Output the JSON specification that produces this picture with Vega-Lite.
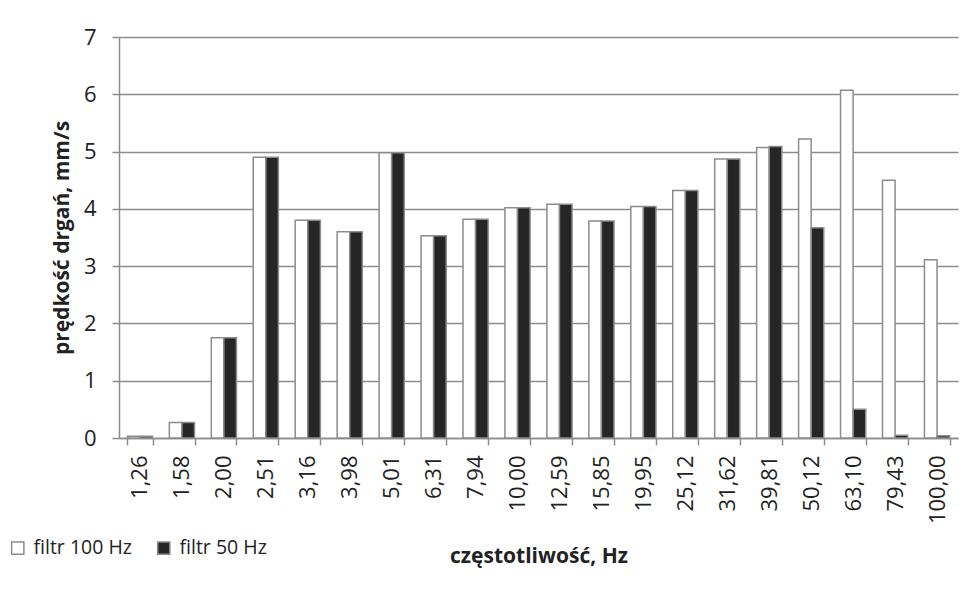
{
  "$schema": "https://vega.github.io/schema/vega-lite/v6.json",
  "width": 839,
  "height": 401,
  "autosize": {"type": "none"},
  "padding": {"left": 119, "top": 37, "right": 18, "bottom": 170},
  "background": "white",
  "data": {
    "values": [
      {"f": "1,26", "s": "filtr 100 Hz", "v": 0.03}, {"f": "1,26", "s": "filtr 50 Hz", "v": 0.03},
      {"f": "1,58", "s": "filtr 100 Hz", "v": 0.27}, {"f": "1,58", "s": "filtr 50 Hz", "v": 0.27},
      {"f": "2,00", "s": "filtr 100 Hz", "v": 1.75}, {"f": "2,00", "s": "filtr 50 Hz", "v": 1.75},
      {"f": "2,51", "s": "filtr 100 Hz", "v": 4.9}, {"f": "2,51", "s": "filtr 50 Hz", "v": 4.9},
      {"f": "3,16", "s": "filtr 100 Hz", "v": 3.8}, {"f": "3,16", "s": "filtr 50 Hz", "v": 3.8},
      {"f": "3,98", "s": "filtr 100 Hz", "v": 3.6}, {"f": "3,98", "s": "filtr 50 Hz", "v": 3.6},
      {"f": "5,01", "s": "filtr 100 Hz", "v": 4.98}, {"f": "5,01", "s": "filtr 50 Hz", "v": 4.98},
      {"f": "6,31", "s": "filtr 100 Hz", "v": 3.53}, {"f": "6,31", "s": "filtr 50 Hz", "v": 3.53},
      {"f": "7,94", "s": "filtr 100 Hz", "v": 3.82}, {"f": "7,94", "s": "filtr 50 Hz", "v": 3.82},
      {"f": "10,00", "s": "filtr 100 Hz", "v": 4.02}, {"f": "10,00", "s": "filtr 50 Hz", "v": 4.02},
      {"f": "12,59", "s": "filtr 100 Hz", "v": 4.08}, {"f": "12,59", "s": "filtr 50 Hz", "v": 4.08},
      {"f": "15,85", "s": "filtr 100 Hz", "v": 3.79}, {"f": "15,85", "s": "filtr 50 Hz", "v": 3.79},
      {"f": "19,95", "s": "filtr 100 Hz", "v": 4.04}, {"f": "19,95", "s": "filtr 50 Hz", "v": 4.04},
      {"f": "25,12", "s": "filtr 100 Hz", "v": 4.32}, {"f": "25,12", "s": "filtr 50 Hz", "v": 4.32},
      {"f": "31,62", "s": "filtr 100 Hz", "v": 4.87}, {"f": "31,62", "s": "filtr 50 Hz", "v": 4.87},
      {"f": "39,81", "s": "filtr 100 Hz", "v": 5.07}, {"f": "39,81", "s": "filtr 50 Hz", "v": 5.09},
      {"f": "50,12", "s": "filtr 100 Hz", "v": 5.22}, {"f": "50,12", "s": "filtr 50 Hz", "v": 3.67},
      {"f": "63,10", "s": "filtr 100 Hz", "v": 6.07}, {"f": "63,10", "s": "filtr 50 Hz", "v": 0.5},
      {"f": "79,43", "s": "filtr 100 Hz", "v": 4.5}, {"f": "79,43", "s": "filtr 50 Hz", "v": 0.05},
      {"f": "100,00", "s": "filtr 100 Hz", "v": 3.11}, {"f": "100,00", "s": "filtr 50 Hz", "v": 0.04}
    ]
  },
  "mark": {"type": "bar", "stroke": "#8c8c8c", "strokeWidth": 1.5},
  "encoding": {
    "x": {
      "field": "f", "type": "nominal", "sort": null,
      "title": "częstotliwość, Hz",
      "scale": {"paddingInner": 0.4, "paddingOuter": 0.2},
      "axis": {
        "labelAngle": -90, "labelFontSize": 22, "labelColor": "#222222", "labelPadding": 10,
        "tickBand": "extent", "tickSize": 7, "tickColor": "#8c8c8c", "tickWidth": 1.5,
        "domainColor": "#8c8c8c", "domainWidth": 1.5,
        "titleFontSize": 21, "titleFontWeight": "bold", "titleColor": "#222222", "titlePadding": 22
      }
    },
    "xOffset": {"field": "s", "type": "nominal", "sort": ["filtr 100 Hz", "filtr 50 Hz"]},
    "y": {
      "field": "v", "type": "quantitative",
      "title": "prędkość drgań, mm/s",
      "scale": {"domain": [0, 7], "nice": false},
      "axis": {
        "values": [0, 1, 2, 3, 4, 5, 6, 7],
        "grid": true, "gridColor": "#8c8c8c", "gridWidth": 1.5,
        "domainColor": "#8c8c8c", "domainWidth": 1.5,
        "tickSize": 7, "tickColor": "#8c8c8c", "tickWidth": 1.5,
        "labelFontSize": 22, "labelColor": "#222222", "labelPadding": 16,
        "titleFontSize": 21, "titleFontWeight": "bold", "titleColor": "#222222", "titlePadding": 11
      }
    },
    "fill": {
      "field": "s", "type": "nominal",
      "scale": {"domain": ["filtr 100 Hz", "filtr 50 Hz"], "range": ["#ffffff", "#262626"]},
      "legend": {
        "title": null, "orient": "none", "legendX": -111, "legendY": 501, "direction": "horizontal",
        "symbolType": "square", "symbolSize": 150, "symbolStrokeColor": "#8c8c8c", "symbolStrokeWidth": 1.5,
        "labelFontSize": 19.5, "labelColor": "#222222", "columnPadding": 22, "labelOffset": 6, "labelLimit": 300
      }
    }
  },
  "config": {"view": {"stroke": null}, "font": "Open Sans"}
}
